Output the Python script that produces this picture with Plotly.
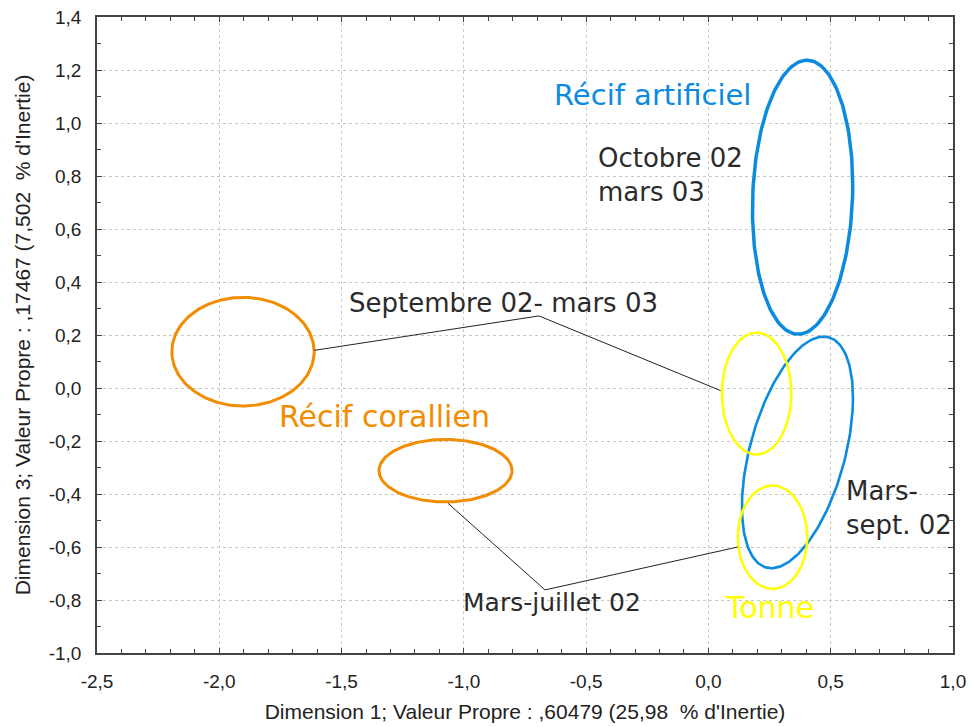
import numpy as np
import plotly.graph_objects as go

# Ellipse parameters (data units)
ell_names = ["Corallien sept02-mars03", "Corallien mars-juil02",
             "Artificiel oct02-mars03", "Artificiel mars-sept02",
             "Tonne sept02-mars03", "Tonne mars-sept02"]
ell_cx = [-1.903, -1.075, 0.385, 0.364, 0.197, 0.262]
ell_cy = [0.137, -0.312, 0.720, -0.243, -0.021, -0.563]
ell_hx = [0.291, 0.272, 0.205, 0.227, 0.142, 0.142]
ell_hy = [0.205, 0.118, 0.517, 0.437, 0.230, 0.195]
ell_phase = [90, 90, 85, 62, 90, 90]
ell_color = ["#F28C00", "#F28C00", "#0A8BE0", "#0A8BE0", "#FFFF00", "#FFFF00"]
ell_width = [3, 3, 3.5, 2.6, 2.5, 2.5]

# Connector lines
conn1_x = [-1.612, -0.693, 0.05]
conn1_y = [0.142, 0.272, -0.01]
conn2_x = [-1.065, -0.668, 0.12]
conn2_y = [-0.435, -0.762, -0.60]

# Text labels
lab_text = ["Récif artificiel", "Octobre 02<br>mars 03", "Septembre 02- mars 03",
            "Récif corallien", "Mars-<br>sept. 02", "Mars-juillet 02", "Tonne"]
lab_x = [-0.229, -0.461, -0.839, -1.324, 0.553, -1.010, 0.251]
lab_y = [1.106, 0.805, 0.321, -0.109, -0.453, -0.811, -0.83]
lab_color = ["#0A8BE0", "#2b2b2b", "#2b2b2b", "#F28C00", "#2b2b2b", "#2b2b2b", "#FFFF00"]
lab_size = [29, 26, 26, 30, 26, 25, 30]
lab_anchor = ["center", "left", "center", "center", "left", "left", "center"]

# Axis ticks
x_tickvals = [-2.5, -2.0, -1.5, -1.0, -0.5, 0.0, 0.5, 1.0]
x_ticktext = ["-2,5", "-2,0", "-1,5", "-1,0", "-0,5", "0,0", "0,5", "1,0"]
y_tickvals = [-1.0, -0.8, -0.6, -0.4, -0.2, 0.0, 0.2, 0.4, 0.6, 0.8, 1.0, 1.2, 1.4]
y_ticktext = ["-1,0", "-0,8", "-0,6", "-0,4", "-0,2", "0,0", "0,2", "0,4", "0,6", "0,8", "1,0", "1,2", "1,4"]

fig = go.Figure()

t = np.linspace(0, 2 * np.pi, 200)
for i in range(len(ell_names)):
    ph = np.deg2rad(ell_phase[i])
    xs = ell_cx[i] + ell_hx[i] * np.cos(t)
    ys = ell_cy[i] + ell_hy[i] * np.cos(t - ph)
    fig.add_trace(go.Scatter(x=xs, y=ys, mode="lines", name=ell_names[i],
                             line=dict(color=ell_color[i], width=ell_width[i]),
                             hoverinfo="skip", showlegend=False))

for cx, cy in [(conn1_x, conn1_y), (conn2_x, conn2_y)]:
    fig.add_trace(go.Scatter(x=cx, y=cy, mode="lines",
                             line=dict(color="#222222", width=1),
                             hoverinfo="skip", showlegend=False))

for i in range(len(lab_text)):
    fig.add_annotation(x=lab_x[i], y=lab_y[i], text=lab_text[i], showarrow=False,
                       xanchor=lab_anchor[i], yanchor="middle", align="left",
                       font=dict(family="DejaVu Sans", size=lab_size[i], color=lab_color[i]))

axis_common = dict(
    showgrid=True, gridcolor="#c8c8c8", griddash="dot", gridwidth=1,
    zeroline=False, showline=True, linecolor="#444444", linewidth=1.5,
    mirror="ticks", ticks="inside", ticklen=5, tickcolor="#444444",
    tickmode="array", automargin=False, ticklabeloverflow="allow",
    tickfont=dict(family="Liberation Sans", size=19, color="#222222"),
    minor=dict(ticks="inside", ticklen=4, tickcolor="#444444", showgrid=False),
)

fig.update_xaxes(range=[-2.5, 1.0], tickvals=x_tickvals, ticktext=x_ticktext, **axis_common)
fig.update_xaxes(minor_dtick=0.1, minor_tick0=0, ticklabelstandoff=10,
                 title=dict(text="Dimension 1; Valeur Propre : ,60479 (25,98  % d'Inertie)",
                            font=dict(family="Liberation Sans", size=21, color="#222222"),
                            standoff=14))
fig.update_yaxes(range=[-1.0, 1.4], tickvals=y_tickvals, ticktext=y_ticktext, **axis_common)
fig.update_yaxes(minor_dtick=0.1, minor_tick0=0, ticklabelstandoff=10,
                 title=dict(text="Dimension 3; Valeur Propre : ,17467 (7,502  % d'Inertie)",
                            font=dict(family="Liberation Sans", size=21, color="#222222"),
                            standoff=12))

fig.update_layout(
    width=973, height=727,
    margin=dict(l=97, r=20, t=17, b=74),
    plot_bgcolor="white", paper_bgcolor="white",
    showlegend=False,
)

# remove the browser's default 8px body margin so the figure fills the window
fig.write_html("out.html", config={"displayModeBar": False},
               post_script="document.body.style.margin='0';document.body.style.overflow='hidden';")
